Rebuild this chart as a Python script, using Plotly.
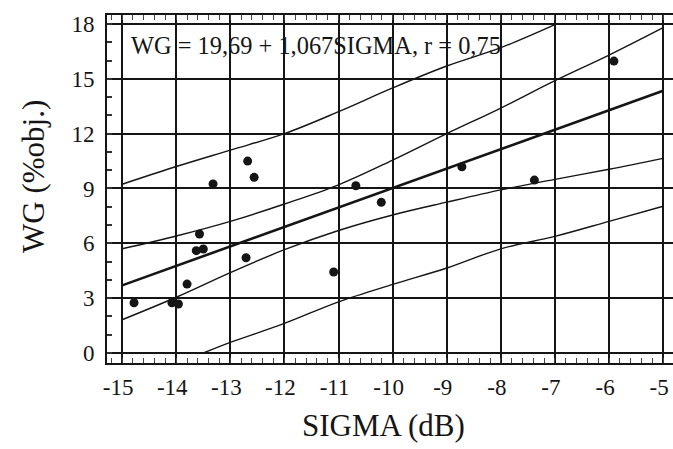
import plotly.graph_objects as go

# ---- data ----
sigma_pts = [-14.78, -14.08, -13.96, -13.80, -13.63, -13.50, -13.57, -13.32,
             -12.68, -12.56, -12.71, -11.09, -10.68, -10.21, -8.72, -7.38, -5.91]
wg_pts = [2.75, 2.75, 2.68, 3.77, 5.60, 5.69, 6.51, 9.25,
          10.50, 9.61, 5.21, 4.43, 9.15, 8.24, 10.19, 9.46, 15.97]

# regression line (thick)
reg_x = [-15, -5]
reg_y = [3.70, 14.35]

# upper / lower confidence band
upconf_x = [-15, -14, -13, -12, -11, -10, -9, -8, -7, -6, -5]
upconf_y = [5.70, 6.40, 7.20, 8.15, 9.20, 10.55, 12.0, 13.4, 14.9, 16.3, 17.8]
loconf_x = [-15, -14, -13, -12, -11, -10, -9, -8, -7, -6, -5]
loconf_y = [1.82, 3.05, 4.40, 5.65, 6.70, 7.55, 8.25, 8.92, 9.50, 10.05, 10.65]

# upper / lower prediction band
uppred_x = [-15, -14, -13, -12, -11, -10, -9, -8, -6.97]
uppred_y = [9.23, 10.2, 11.1, 12.0, 13.2, 14.5, 15.7, 16.7, 18.0]
lopred_x = [-13.5, -13, -12, -11, -10, -9, -8, -7, -6, -5]
lopred_y = [0.0, 0.58, 1.62, 2.80, 3.75, 4.65, 5.70, 6.38, 7.20, 8.03]

x_ticks = [-15, -14, -13, -12, -11, -10, -9, -8, -7, -6, -5]
x_tick_labels = ["-15", "-14", "-13", "-12", "-11", "-10", "-9", "-8", "-7", "-6", "-5"]
y_ticks = [0, 3, 6, 9, 12, 15, 18]
y_tick_labels = ["0", "3", "6", "9", "12", "15", "18"]

equation_text = "WG = 19,69 + 1,067SIGMA, r = 0,75"
x_title = "SIGMA (dB)"
y_title = "WG (%obj.)"

FONT = "Liberation Serif, Times New Roman, serif"
INK = "#151515"
W, H = 673, 449
ML, MT, MB = 107, 15, 86
pw, ph = W - ML, H - MT - MB

fig = go.Figure()
thin = dict(color=INK, width=1.4)
for xs, ys in [(uppred_x, uppred_y), (upconf_x, upconf_y),
               (loconf_x, loconf_y), (lopred_x, lopred_y)]:
    fig.add_trace(go.Scatter(x=xs, y=ys, mode="lines", line=thin,
                             line_shape="spline", hoverinfo="skip"))
fig.add_trace(go.Scatter(x=reg_x, y=reg_y, mode="lines",
                         line=dict(color=INK, width=2.6), hoverinfo="skip"))
fig.add_trace(go.Scatter(x=sigma_pts, y=wg_pts, mode="markers",
                         marker=dict(color=INK, size=9)))

fig.add_annotation(x=-14.87, y=16.8, xref="x", yref="y", text=equation_text,
                   showarrow=False, xanchor="left", yanchor="middle",
                   font=dict(family=FONT, size=24.4, color=INK))

# axis titles placed as annotations, pixel centres converted to paper coords
fig.add_annotation(x=(383 - ML) / pw, y=(H - MB - 425) / ph, xref="paper", yref="paper",
                   text=x_title, showarrow=False, xanchor="center", yanchor="middle",
                   font=dict(family=FONT, size=31, color=INK))
fig.add_annotation(x=(33 - ML) / pw, y=(H - MB - 176) / ph, xref="paper", yref="paper",
                   text=y_title, showarrow=False, xanchor="center", yanchor="middle",
                   textangle=-90, font=dict(family=FONT, size=31, color=INK))

fig.update_layout(
    width=W, height=H,
    margin=dict(l=ML, r=0, t=MT, b=MB, autoexpand=False),
    paper_bgcolor="white", plot_bgcolor="white",
    showlegend=False,
    font=dict(family=FONT, color=INK),
)

fig.update_xaxes(
    range=[-15.28, -4.818], tickmode="array", tickvals=x_ticks, ticktext=x_tick_labels,
    showgrid=True, gridcolor=INK, gridwidth=1.5, zeroline=False,
    showline=True, linecolor=INK, linewidth=2, mirror="allticks",
    ticks="", tickfont=dict(family=FONT, size=23, color=INK),
    ticklabelshift=-4, ticklabelstandoff=2, automargin=False,
    minor=dict(dtick=0.2, tick0=-15, ticks="inside", ticklen=5, tickcolor="#444",
               tickwidth=1.2, showgrid=False),
)
fig.update_yaxes(
    range=[-0.547, 18.49], tickmode="array", tickvals=y_ticks, ticktext=y_tick_labels,
    showgrid=True, gridcolor=INK, gridwidth=1.5, zeroline=False,
    showline=True, linecolor=INK, linewidth=2, mirror=False,
    ticks="", tickfont=dict(family=FONT, size=23, color=INK),
    ticklabelstandoff=6, automargin=False,
    minor=dict(dtick=1, tick0=0, ticks="inside", ticklen=5, tickcolor="#333",
               tickwidth=1.5, showgrid=False),
)

fig.write_html("out.html", config={"displayModeBar": False},
               post_script="document.body.style.margin='0';")
